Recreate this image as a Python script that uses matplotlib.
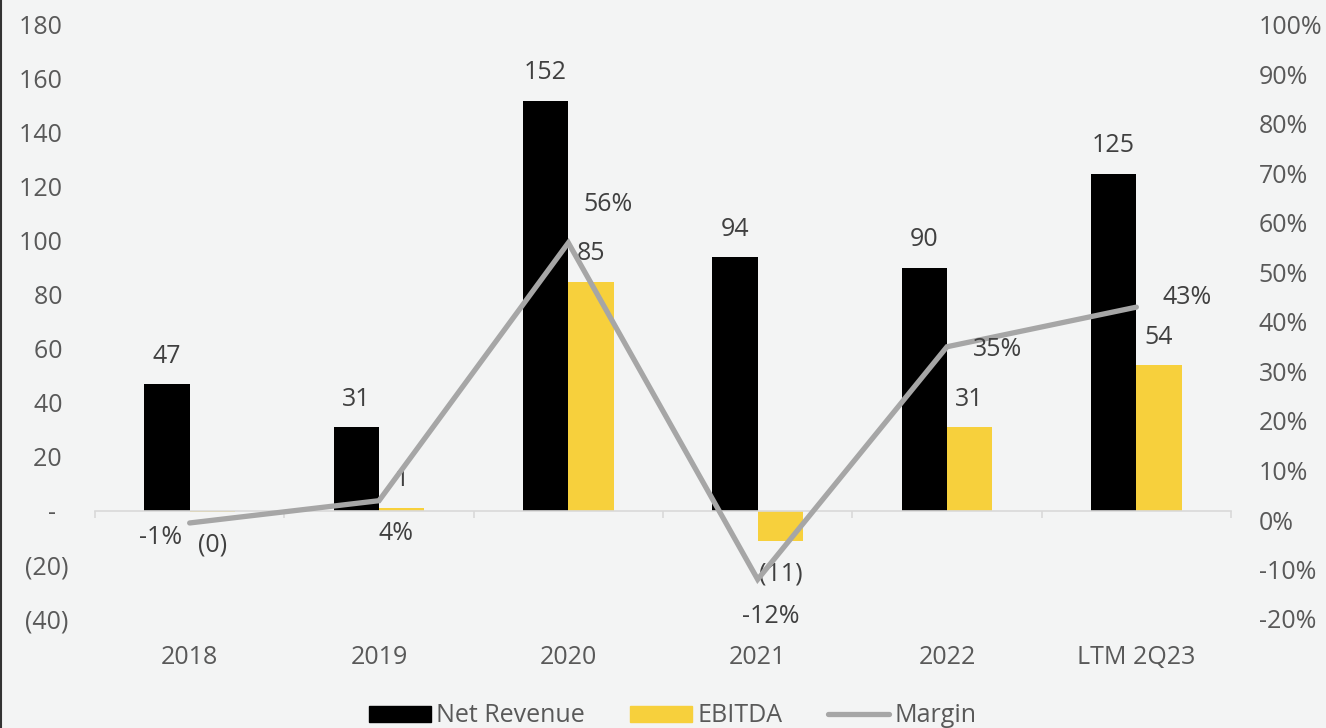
import matplotlib
matplotlib.use("Agg")
import matplotlib.pyplot as plt
from matplotlib.lines import Line2D
from matplotlib.patches import Patch
import matplotlib.transforms as mtransforms
import numpy as np

# ---- data ----
categories = ['2018', '2019', '2020', '2021', '2022', 'LTM 2Q23']
net_revenue = [47, 31, 152, 94, 90, 125]
ebitda = [-0.3, 1.2, 85, -11, 31, 54]
margin = [-0.6, 3.9, 56, -12, 35, 43]  # percent

left_ticks = [-40, -20, 0, 20, 40, 60, 80, 100, 120, 140, 160, 180]
right_ticks = [-20, -10, 0, 10, 20, 30, 40, 50, 60, 70, 80, 90, 100]

# ---- style ----
BG = '#F3F4F4'
TXT = '#595959'
LBL = '#404040'
BLACK = '#000000'
YELLOW = '#F7D03C'
GRAY = '#A6A6A6'
FS = 18
plt.rcParams['font.family'] = ['Open Sans', 'DejaVu Sans']

fig = plt.figure(figsize=(13.26, 7.28), dpi=100, facecolor=BG)
ax = fig.add_axes([95/1326, 109/728, (1231-95)/1326, (619-25)/728])
ax.set_facecolor(BG)
ax2 = ax.twinx()

x = np.arange(len(categories))
w = 0.24
ax.bar(x - w/2, net_revenue, width=w, color=BLACK, zorder=2)
ax.bar(x + w/2, ebitda, width=w, color=YELLOW, zorder=2)

ax.set_xlim(-0.5, len(categories) - 0.5)
ax.set_ylim(-40, 180)
ax2.set_ylim(-20, 100)

def num_fmt(v):
    if v == 0:
        return '-  '
    if v < 0:
        return f'({abs(v):,.0f})'
    return f'{v:,.0f} '

ax.set_yticks(left_ticks)
ax.set_yticklabels([num_fmt(v) for v in left_ticks])
ax2.set_yticks(right_ticks)
ax2.set_yticklabels([f'{v}%' for v in right_ticks])
ax.tick_params(axis='y', length=0, pad=19, labelsize=FS, labelcolor=TXT)
ax2.tick_params(axis='y', length=0, pad=20, labelsize=FS, labelcolor=TXT)

for a in (ax, ax2):
    for s in a.spines.values():
        s.set_visible(False)

# zero axis line with category boundary ticks
ax.spines['bottom'].set_visible(True)
ax.spines['bottom'].set_position(('data', 0))
ax.spines['bottom'].set_color('#D9D9D9')
ax.spines['bottom'].set_linewidth(1.2)
ax.set_xticks(np.arange(-0.5, len(categories) + 0.5, 1.0))
ax.set_xticklabels([])
ax.tick_params(axis='x', length=5, width=1.2, color='#D9D9D9', direction='out')

# category labels
trans = mtransforms.blended_transform_factory(ax.transData, ax.transAxes)
for i, c in enumerate(categories):
    ax.text(i, -0.064, c, transform=trans, ha='center', va='center',
            fontsize=FS, color=TXT)

# margin line
ax2.plot(x, margin, color=GRAY, lw=3.8, solid_capstyle='round',
         solid_joinstyle='miter', zorder=3)

# data labels
def bar_lbl(v):
    r = round(v)
    if v < 0:
        return f'({abs(r)})'
    return f'{r}'

for i, v in enumerate(net_revenue):
    ax.annotate(bar_lbl(v), (x[i] - w/2, v), xytext=(0, 28),
                textcoords='offset pixels', ha='center', va='center',
                fontsize=FS, color=LBL)
for i, v in enumerate(ebitda):
    off = 28 if v > 0 else -33
    ax.annotate(bar_lbl(v), (x[i] + w/2, v), xytext=(0, off),
                textcoords='offset pixels', ha='center', va='center',
                fontsize=FS, color=LBL)

margin_offsets = [(-29, -15), (17, -33), (40, 38), (13, -37), (51, -3), (51, 10)]
for i, v in enumerate(margin):
    ax2.annotate(f'{round(v)}%', (x[i], v), xytext=margin_offsets[i],
                 textcoords='offset pixels', ha='center', va='center',
                 fontsize=FS, color=LBL)

# legend
handles = [Patch(facecolor=BLACK, edgecolor=BLACK),
           Patch(facecolor=YELLOW, edgecolor=YELLOW),
           Line2D([0], [0], color=GRAY, lw=3.8, solid_capstyle='round')]
leg = fig.legend(handles, ['Net Revenue', 'EBITDA', 'Margin'], loc='center',
                 bbox_to_anchor=(673/1326, 12/728), ncol=3, frameon=False,
                 fontsize=FS, handlelength=2.45, handleheight=0.6,
                 handletextpad=0.24, columnspacing=1.8, labelcolor=TXT,
                 borderpad=0)

# left border line
fig.add_artist(Line2D([0.0008, 0.0008], [0, 1], transform=fig.transFigure,
                      color='#333333', lw=1.5))

fig.savefig('out.png', dpi=100, facecolor=BG)
